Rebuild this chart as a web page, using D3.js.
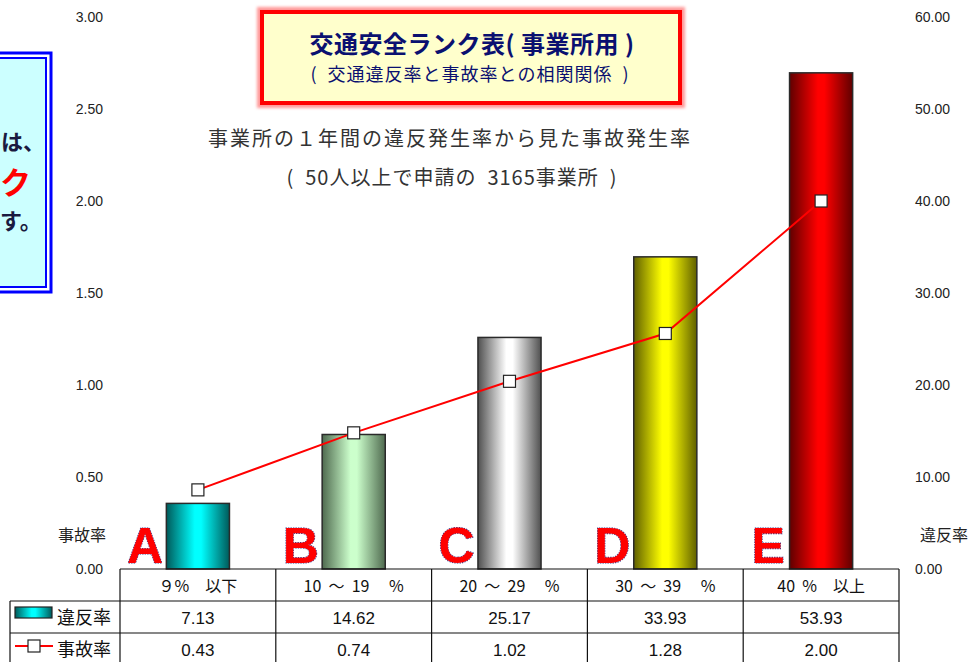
<!DOCTYPE html>
<html lang="ja">
<head>
<meta charset="UTF-8">
<script src="https://cdn.jsdelivr.net/npm/d3@7"></script>
<style>
body { margin: 0; background: #fff; overflow: hidden; }
svg { display: block; }
svg text { white-space: pre; }
.jp { font-family: "Noto Sans CJK JP", sans-serif; }
.num { font-family: "Liberation Sans Narrow", "Liberation Sans", Arial, sans-serif; }
.axis path, .axis line { display: none; }
.axis text { font-family: "Liberation Sans Narrow", "Liberation Sans", Arial, sans-serif; font-size: 14px; fill: #222; }
</style>
</head>
<body>
<div id="chart"></div>
<script>
// data
const categories = ["９%　以下", "10  ～  19　 %", "20  ～  29　 %", "30  ～  39　 %", "40  %　以上"];
const ranks = ["A", "B", "C", "D", "E"];
const violationRate = [7.13, 14.62, 25.17, 33.93, 53.93];
const accidentRate = [0.43, 0.74, 1.02, 1.28, 2.00];
const leftTicks = [0, 0.5, 1, 1.5, 2, 2.5, 3];
const rightTicks = [0, 10, 20, 30, 40, 50, 60];
const barColors = [
    ["#005a5a", "#00ffff"],
    ["#4f6a4f", "#ccffcc"],
    ["#505050", "#ffffff"],
    ["#606000", "#ffff00"],
    ["#600000", "#ff0000"]
];

const W = 973, H = 662;
const plot = {left: 120, right: 899, top: 17, bottom: 569};

const svg = d3.select("#chart").append("svg")
    .attr("width", W)
    .attr("height", H);

const defs = svg.append("defs");
barColors.forEach((c, i) => {
    const g = defs.append("linearGradient").attr("id", "grad" + i)
        .attr("x1", "0%").attr("x2", "100%").attr("y1", "0%").attr("y2", "0%");
    g.append("stop").attr("offset", "0%").attr("stop-color", c[0]);
    g.append("stop").attr("offset", "45%").attr("stop-color", c[1]);
    g.append("stop").attr("offset", "55%").attr("stop-color", c[1]);
    g.append("stop").attr("offset", "100%").attr("stop-color", c[0]);
});
const glow = defs.append("filter").attr("id", "glow")
    .attr("x", "-10%").attr("y", "-10%").attr("width", "120%").attr("height", "120%");
glow.append("feGaussianBlur").attr("stdDeviation", 1.5);

const x = d3.scaleBand()
    .domain(d3.range(categories.length))
    .range([plot.left, plot.right])
    .padding(0);

const yL = d3.scaleLinear().domain([0, 3]).range([plot.bottom, plot.top]);
const yR = d3.scaleLinear().domain([0, 60]).range([plot.bottom, plot.top]);

// axes (labels only)
svg.append("g")
    .attr("class", "axis")
    .attr("transform", "translate(103,0)")
    .call(d3.axisLeft(yL).tickValues(leftTicks).tickSize(0).tickPadding(0).tickFormat(d3.format(".2f")));

svg.append("g")
    .attr("class", "axis")
    .attr("transform", "translate(915,0)")
    .call(d3.axisRight(yR).tickValues(rightTicks).tickSize(0).tickPadding(0).tickFormat(d3.format(".2f")));

svg.append("text").attr("class", "jp")
    .attr("x", 82).attr("y", 541).attr("text-anchor", "middle")
    .attr("font-size", 16).attr("fill", "#222").text("事故率");
svg.append("text").attr("class", "jp")
    .attr("x", 944).attr("y", 541).attr("text-anchor", "middle")
    .attr("font-size", 16).attr("fill", "#222").text("違反率");

// left info box (cut off at page edge)
svg.append("rect")
    .attr("x", -20).attr("y", 53).attr("width", 71).attr("height", 239)
    .attr("fill", "none").attr("stroke", "#0000ff").attr("stroke-width", 3);
svg.append("rect")
    .attr("x", -20).attr("y", 58).attr("width", 66).attr("height", 229)
    .attr("fill", "#ccffff").attr("stroke", "#0000ff").attr("stroke-width", 2);
svg.append("text").attr("class", "jp")
    .attr("x", 1).attr("y", 150)
    .attr("font-size", 22).attr("font-weight", "bold").attr("fill", "#1a1a40").text("は、");
svg.append("text").attr("class", "jp")
    .attr("x", 0).attr("y", 194)
    .attr("font-size", 31).attr("font-weight", "bold").attr("fill", "#ff0000").text("ク");
svg.append("text").attr("class", "jp")
    .attr("x", 0).attr("y", 229)
    .attr("font-size", 22).attr("font-weight", "bold").attr("fill", "#1a1a40").text("す。");

// title box
svg.append("rect")
    .attr("x", 260).attr("y", 10).attr("width", 422).attr("height", 95)
    .attr("fill", "none").attr("stroke", "#ff9999").attr("stroke-width", 6)
    .attr("filter", "url(#glow)");
svg.append("rect")
    .attr("x", 262).attr("y", 12).attr("width", 418).attr("height", 91)
    .attr("fill", "#ffffcc").attr("stroke", "#ff0000").attr("stroke-width", 4);
svg.append("text").attr("class", "jp")
    .attr("x", 472).attr("y", 53).attr("text-anchor", "middle")
    .attr("font-size", 24).attr("font-weight", "bold").attr("fill", "#0a1070")
    .attr("letter-spacing", 0.5)
    .text("交通安全ランク表( 事業所用 )");
svg.append("text").attr("class", "jp")
    .attr("x", 470).attr("y", 81).attr("text-anchor", "middle")
    .attr("font-size", 18).attr("fill", "#0a1070")
    .attr("letter-spacing", 1)
    .text("(  交通違反率と事故率との相関関係  )");

// subtitle
svg.append("text").attr("class", "jp")
    .attr("x", 450).attr("y", 146).attr("text-anchor", "middle")
    .attr("font-size", 20).attr("fill", "#333").attr("letter-spacing", 2)
    .text("事業所の１年間の違反発生率から見た事故発生率");
svg.append("text").attr("class", "jp")
    .attr("x", 452).attr("y", 185).attr("text-anchor", "middle")
    .attr("font-size", 20).attr("fill", "#333").attr("letter-spacing", 1)
    .text("(  50人以上で申請の  3165事業所  )");

// bars
const barW = x.bandwidth() * 0.405;
svg.selectAll(".bar")
    .data(violationRate)
    .enter().append("rect")
    .attr("class", "bar")
    .attr("x", (d, i) => x(i) + x.bandwidth() / 2 - barW / 2)
    .attr("y", d => yR(d))
    .attr("width", barW)
    .attr("height", d => yR(0) - yR(d))
    .attr("fill", (d, i) => `url(#grad${i})`)
    .attr("stroke", "#2a2a2a")
    .attr("stroke-width", 1.5);

// rank letters
svg.selectAll(".rank")
    .data(ranks)
    .enter().append("text")
    .attr("class", "rank")
    .attr("x", (d, i) => x(i) + 25)
    .attr("y", 563)
    .attr("text-anchor", "middle")
    .attr("font-family", "'Liberation Sans', Arial, sans-serif")
    .attr("font-weight", "bold")
    .attr("font-size", 50)
    .attr("fill", "#ff0000")
    .attr("stroke", "#3a3a8a")
    .attr("stroke-width", 1.2)
    .attr("stroke-dasharray", "1.5,1")
    .attr("paint-order", "stroke")
    .text(d => d);

// accident line
const line = d3.line()
    .x((d, i) => x(i) + x.bandwidth() / 2)
    .y(d => yL(d));
svg.append("path")
    .datum(accidentRate)
    .attr("d", line)
    .attr("fill", "none")
    .attr("stroke", "#ff0000")
    .attr("stroke-width", 2);
svg.selectAll(".pt")
    .data(accidentRate)
    .enter().append("rect")
    .attr("class", "pt")
    .attr("x", (d, i) => x(i) + x.bandwidth() / 2 - 6)
    .attr("y", d => yL(d) - 6)
    .attr("width", 12)
    .attr("height", 12)
    .attr("fill", "#fff")
    .attr("stroke", "#222")
    .attr("stroke-width", 1.2);

// data table
const rows = [plot.bottom, 601, 633, 665];
const tbl = svg.append("g").attr("fill", "none").attr("stroke", "#111").attr("stroke-width", 1.2);
tbl.append("line").attr("x1", plot.left).attr("x2", plot.right).attr("y1", rows[0]).attr("y2", rows[0]);
tbl.append("line").attr("x1", 10).attr("x2", plot.right).attr("y1", rows[1]).attr("y2", rows[1]);
tbl.append("line").attr("x1", 10).attr("x2", plot.right).attr("y1", rows[2]).attr("y2", rows[2]);
tbl.append("line").attr("x1", 10).attr("x2", 10).attr("y1", rows[1]).attr("y2", H);
d3.range(categories.length + 1).forEach(i => {
    const xx = i < categories.length ? x(i) : plot.right;
    tbl.append("line").attr("x1", xx).attr("x2", xx).attr("y1", rows[0]).attr("y2", H);
});

const cell = (vals, yy, cls, fs) => svg.selectAll(null)
    .data(vals)
    .enter().append("text")
    .attr("class", cls)
    .attr("x", (d, i) => x(i) + x.bandwidth() / 2)
    .attr("y", yy)
    .attr("text-anchor", "middle")
    .attr("font-size", fs)
    .attr("fill", "#111");
cell(categories, 592, "jp", 16).text(d => d);
cell(violationRate, 624, "num", 17).text(d => d.toFixed(2));
cell(accidentRate, 656, "num", 17).text(d => d.toFixed(2));

// legend
svg.append("rect")
    .attr("x", 15).attr("y", 607).attr("width", 37).attr("height", 11)
    .attr("fill", "url(#grad0)").attr("stroke", "#222").attr("stroke-width", 1.2);
svg.append("text").attr("class", "jp")
    .attr("x", 57).attr("y", 624).attr("font-size", 18).attr("fill", "#111").text("違反率");
svg.append("line")
    .attr("x1", 15).attr("x2", 53).attr("y1", 646).attr("y2", 646)
    .attr("stroke", "#ff0000").attr("stroke-width", 2);
svg.append("rect")
    .attr("x", 28).attr("y", 640).attr("width", 12).attr("height", 12)
    .attr("fill", "#fff").attr("stroke", "#222").attr("stroke-width", 1.2);
svg.append("text").attr("class", "jp")
    .attr("x", 57).attr("y", 656).attr("font-size", 18).attr("fill", "#111").text("事故率");
</script>
</body>
</html>
